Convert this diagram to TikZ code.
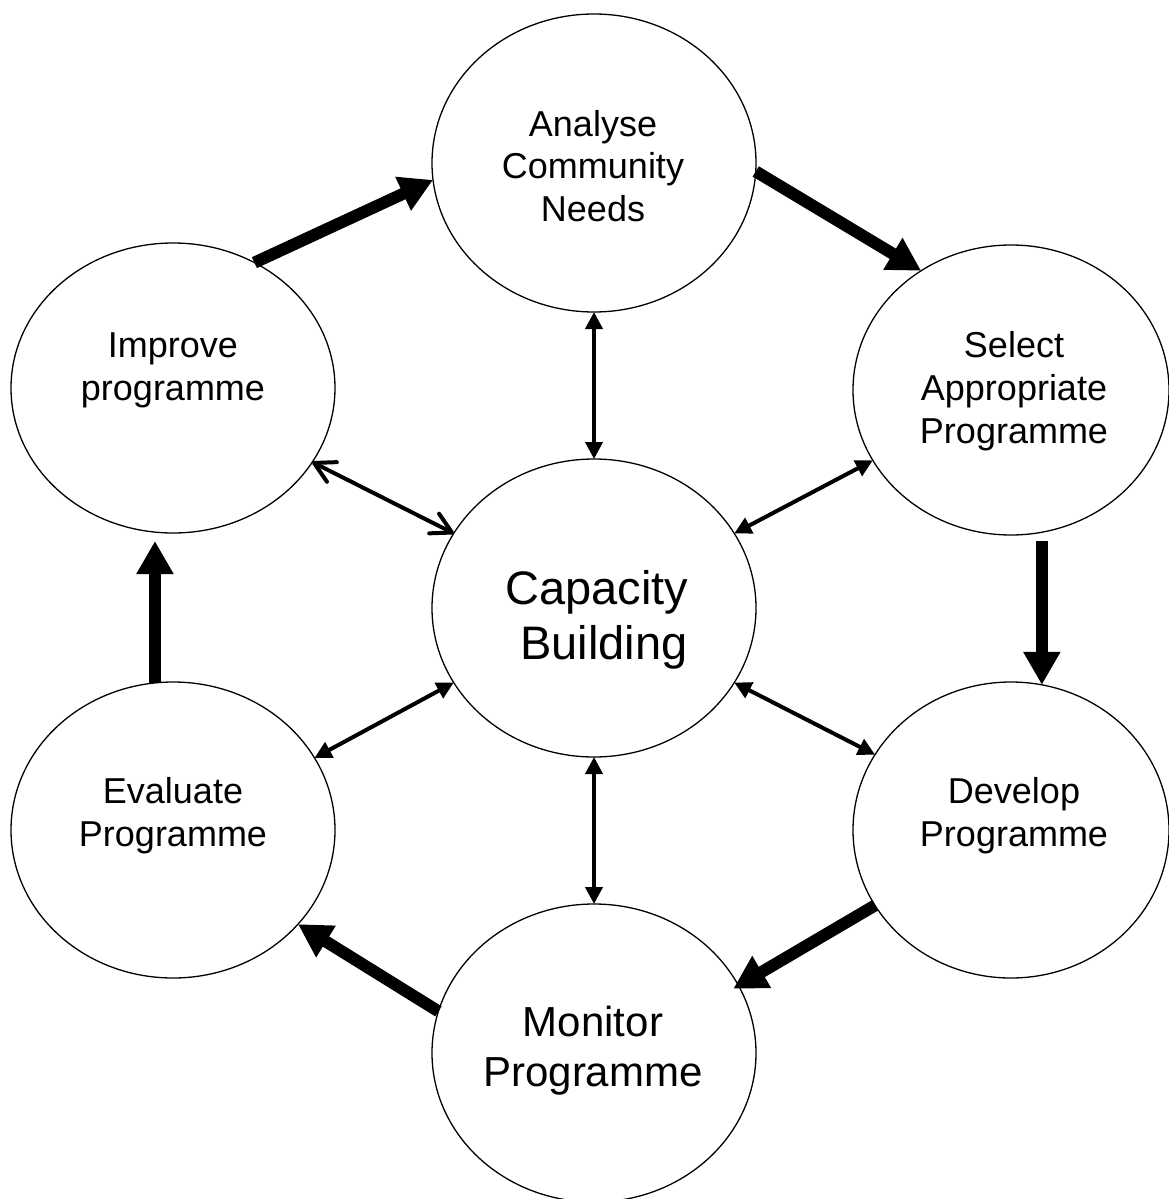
\documentclass[tikz,border=0pt]{standalone}
\usepackage{fontspec}
\setmainfont{Liberation Sans}
\usetikzlibrary{shapes.geometric,arrows.meta}
\begin{document}
\begin{tikzpicture}[x=1pt,y=-1pt,
  ell/.style={draw,ellipse,line width=1.3pt,inner sep=0pt,outer sep=0pt},
  txt/.style={align=center,font=\fontsize{36}{42.7}\selectfont},
  big/.style={line width=12pt,-{Triangle[length=33pt,width=35pt]}},
  thinarr/.style={line width=4pt,{Triangle[length=17pt,width=17pt]}-{Triangle[length=17pt,width=17pt]}},
  barb/.style={line width=4pt,line cap=round,{Straight Barb[length=20pt,width=22pt,round]}-{Straight Barb[length=20pt,width=22pt,round]}}]
\useasboundingbox (0,0) rectangle (1168,1199);
% ellipses
\node[ell,minimum width=324pt,minimum height=298pt] (ana) at (594,163) {};
\node[ell,minimum width=316pt,minimum height=290pt] (sel) at (1011,390) {};
\node[ell,minimum width=324pt,minimum height=290pt] (imp) at (173,388) {};
\node[ell,minimum width=324pt,minimum height=298pt] (cap) at (594,608) {};
\node[ell,minimum width=316pt,minimum height=296pt] (dev) at (1011,830) {};
\node[ell,minimum width=324pt,minimum height=296pt] (eva) at (173,830) {};
\node[ell,minimum width=324pt,minimum height=298pt] (mon) at (594,1053) {};
% texts
\node[txt] (tana) at (593,166) {Analyse\\Community\\Needs};
\node[txt] (tsel) at (1014,391) {Select\\Appropriate\\Programme};
\node[txt] (timp) at (173,370) {Improve\\programme};
\node[txt] (tdev) at (1014,816) {Develop\\Programme};
\node[txt] (teva) at (173,816) {Evaluate\\Programme};
\node[txt,font=\fontsize{42}{50}\selectfont] (tmon) at (593,1051) {Monitor\\Programme};
\node[txt,font=\fontsize{47}{55}\selectfont] (tcap) at (597,620) {Capacity\\\hspace*{0.3em}Building};
% thick cycle arrows
\draw[big] (imp.57) -- (ana.186);
\draw[big] (ana.-3) -- (sel.127);
\draw[big] ([yshift=-6pt]sel.south -| dev.78) -- (dev.78);
\draw[big,shorten >=-6pt] (dev.209) -- (mon.25);
\draw[big] (mon.165) -- (eva.-37);
\draw[big] (eva.97) -- ([yshift=-8pt]imp.south -| eva.97);
% thin double arrows
\draw[thinarr] (ana.south) -- (cap.north);
\draw[barb] (imp.-28) -- (cap.152);
\draw[thinarr] (sel.207) -- (cap.28);
\draw[thinarr] (cap.-28) -- (dev.151);
\draw[thinarr] (cap.208) -- (eva.27);
\draw[thinarr] (cap.south) -- (mon.north);
\end{tikzpicture}
\end{document}
